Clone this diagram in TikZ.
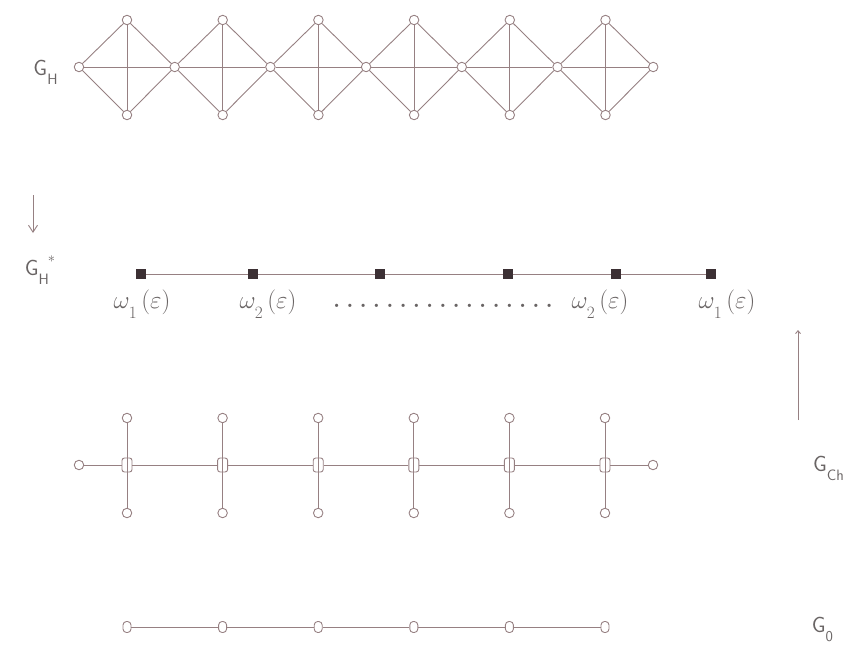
\documentclass[tikz,border=0pt]{standalone}
\usepackage{amsmath,amssymb}
\usepackage{xcolor}
\usepackage{tikz}
\usetikzlibrary{arrows.meta}

\definecolor{edgecol}{RGB}{150,128,130}
\definecolor{txtcol}{RGB}{105,100,100}
\definecolor{sqcol}{RGB}{60,48,52}

\newcommand{\gname}[2]{\textsf{G}\raisebox{-9pt}{\textsf{\fontsize{15}{15}\selectfont #2}}\hspace{-1pt}\raisebox{13pt}{\fontsize{15}{15}\selectfont #1}}
\newcommand{\wlab}[1]{$\omega_{\lower6pt\hbox{$\scriptstyle #1$}}\,(\varepsilon)$}

\begin{document}
\begin{tikzpicture}[x=1pt,y=-1pt,>={Straight Barb[length=7pt,width=9pt]},
  edge/.style={draw=edgecol,line width=0.9pt},
  vtx/.style={draw=edgecol,circle,inner sep=0pt,minimum size=9.5pt,line width=0.9pt},
  hub/.style={draw=edgecol,rectangle,rounded corners=2.5pt,inner sep=0pt,minimum width=10pt,minimum height=14pt,line width=0.9pt},
  oval/.style={draw=edgecol,rectangle,rounded corners=3.5pt,inner sep=0pt,minimum width=8pt,minimum height=11pt,line width=0.9pt},
  blk/.style={fill=sqcol,draw=none,rectangle,inner sep=0pt,minimum size=10pt},
  lbl/.style={text=txtcol,font=\fontsize{23}{26}\selectfont,inner sep=0pt},
  glbl/.style={text=txtcol,font=\fontsize{22}{26}\selectfont,inner sep=0pt}]
  \useasboundingbox (0,0) rectangle (849,653);

  % G_H : chain of diamonds
  \foreach \i in {0,...,6}
    \node[vtx] (m\i) at ({79+95.7*\i},67) {};
  \foreach \i in {0,...,5} {
    \node[vtx] (t\i) at ({127+95.7*\i},20) {};
    \node[vtx] (b\i) at ({127+95.7*\i},115) {};
  }
  \foreach \i [evaluate=\i as \j using int(\i+1)] in {0,...,5} {
    \draw[edge] (m\i) -- (t\i) -- (m\j) -- (b\i) -- (m\i);
    \draw[edge] (t\i) -- (b\i);
    \draw[edge] (m\i) -- (m\j);
  }
  \node[glbl] (gh) at (45,72) {\gname{}{H}};

  % reduction arrow
  \coordinate (dtop) at (33,195);
  \coordinate (dbot) at (33,233);
  \draw[edge,->] (dtop) -- (dbot);

  % G_H^* : quotient chain
  \foreach \x [count=\k] in {141,253,380,508,616,711}
    \node[blk] (s\k) at (\x,274) {};
  \draw[edge] (s1) -- (s2) -- (s3) -- (s4) -- (s5) -- (s6);
  \node[glbl] (ghs) at (40,270) {\gname{$\ast$}{H}};

  \node[lbl] (w1) at (142,304) {\wlab{1}};
  \node[lbl] (w2) at (268,304) {\wlab{2}};
  \node[lbl] (w3) at (600,304) {\wlab{2}};
  \node[lbl] (w4) at (727,304) {\wlab{1}};
  \node[lbl,anchor=base] (dots) at (443,307)
    {\makebox[226pt]{\xleaders\hbox to 13pt{\hss\textbf{.}\hss}\hfill}};

  % back arrow
  \coordinate (ubot) at (798,420);
  \coordinate (utop) at (798,330);
  \draw[edge,-{Straight Barb[length=3pt,width=5pt]}] (ubot) -- (utop);

  % G_Ch
  \node[vtx] (cl) at (79,465) {};
  \node[vtx] (cr) at (653,465) {};
  \foreach \i in {0,...,5} {
    \node[hub] (c\i) at ({127+95.6*\i},465) {};
    \node[vtx] (ct\i) at ({127+95.6*\i},418) {};
    \node[vtx] (cb\i) at ({127+95.6*\i},513) {};
    \draw[edge] (ct\i.south) -- (cb\i.north);
  }
  \draw[edge] (cl) -- (c0) -- (c1) -- (c2) -- (c3) -- (c4) -- (c5) -- (cr);
  \node[glbl] (gch) at (828,468) {\gname{}{Ch}};

  % G_0
  \foreach \i in {0,...,5}
    \node[oval] (o\i) at ({127+95.6*\i},627) {};
  \draw[edge] (o0) -- (o1) -- (o2) -- (o3) -- (o4) -- (o5);
  \node[glbl] (g0) at (822,630) {\gname{}{0}};
\end{tikzpicture}
\end{document}
